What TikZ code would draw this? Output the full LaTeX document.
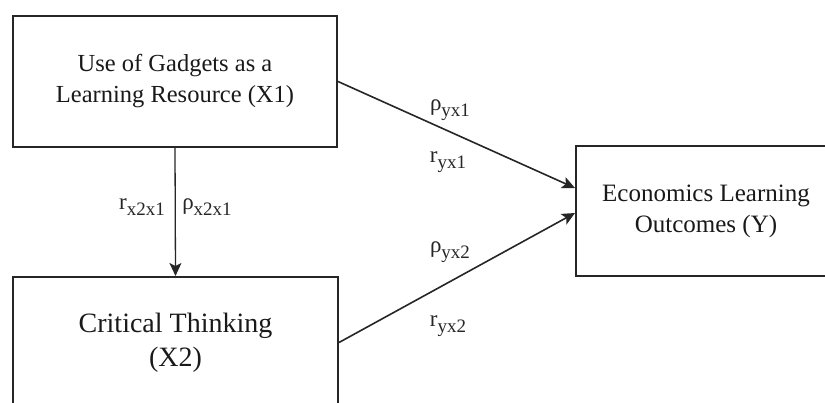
\documentclass[tikz,border=0pt]{standalone}
\usepackage{fontspec}
\setmainfont{Liberation Serif}
\usepackage{tikz}
\usetikzlibrary{calc,arrows.meta}
\newcommand{\coef}[2]{#1\raisebox{-0.28em}{\fontsize{19}{19}\selectfont #2}}

\begin{document}
\begin{tikzpicture}[>={Stealth[length=13pt,width=12pt,inset=3pt]},x=1pt,y=-1pt,
  varbox/.style={draw=black!85,line width=2pt,inner sep=0pt,align=center,text=black!90},
  path/.style={->,draw=black!85,line width=1.6pt},
  coeflbl/.style={font=\fontsize{23}{23}\selectfont,text=black!85,inner sep=0pt}]
  \useasboundingbox (0,0) rectangle (825,403);
  % Variables
  \node[varbox,minimum width=324pt,minimum height=131pt,font=\fontsize{24.5}{31}\selectfont] (gad) at (175,81.5) {Use of Gadgets as a\\Learning Resource (X1)};
  \node[varbox,minimum width=325pt,minimum height=131pt,font=\fontsize{28}{34}\selectfont] (crit) at (175.5,342.5) {Critical Thinking\\(X2)};
  \node[varbox,minimum width=260pt,minimum height=130pt,font=\fontsize{25}{31}\selectfont] (out) at (706,211) {Economics Learning\\Outcomes (Y)};
  % Paths
  \draw[path,line width=1.3pt] (gad.south) -- (crit.north);
  \draw[path] (gad.east) -- ([yshift=23pt]out.west);
  \draw[path] (crit.east) -- ([yshift=-2pt]out.west);
  % Coefficients
  \node[coeflbl] (rx) at (142,207) {\coef{r}{x2x1}};
  \node[coeflbl] (px) at (207,207) {\coef{ρ}{x2x1}};
  \node[coeflbl] (p1) at (450,110) {\coef{ρ}{yx1}};
  \node[coeflbl] (r1) at (448,162) {\coef{r}{yx1}};
  \node[coeflbl] (p2) at (450,252) {\coef{ρ}{yx2}};
  \node[coeflbl] (r2) at (448,326) {\coef{r}{yx2}};
\end{tikzpicture}
\end{document}
